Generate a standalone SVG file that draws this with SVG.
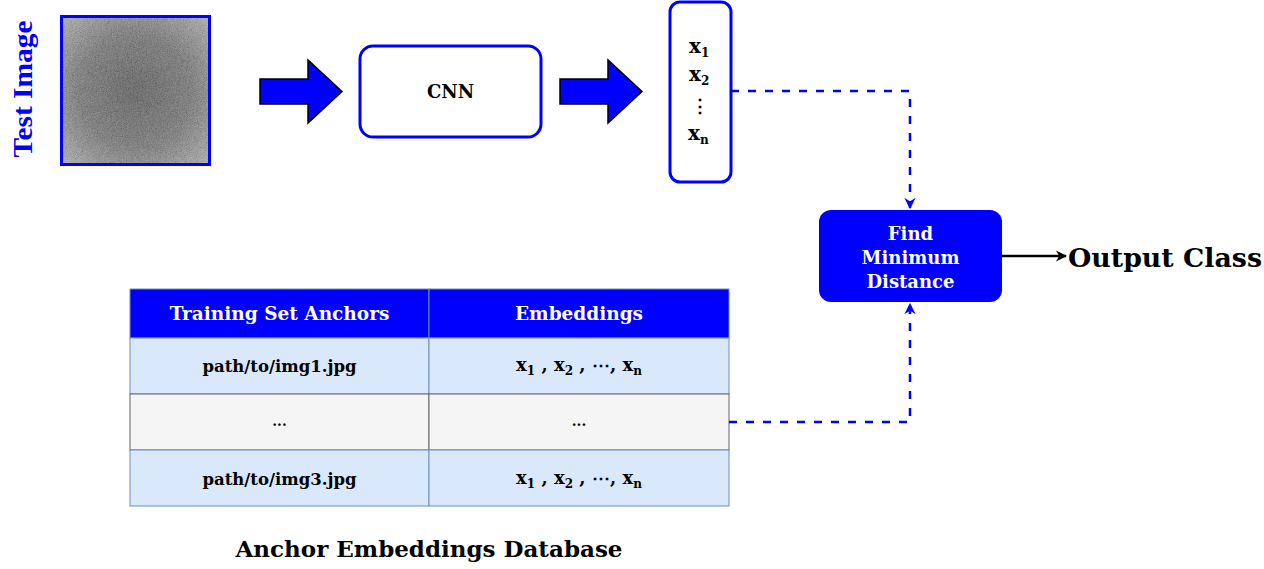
<svg xmlns="http://www.w3.org/2000/svg" width="1264" height="569" viewBox="0 0 1264 569">
<defs>
  <radialGradient id="imgGrad" cx="50%" cy="50%" r="70%">
    <stop offset="0" stop-color="#333"/>
    <stop offset="0.55" stop-color="#555"/>
    <stop offset="1" stop-color="#a5a5a5"/>
  </radialGradient>
  <filter id="noise" x="0" y="0" width="100%" height="100%">
    <feTurbulence type="fractalNoise" baseFrequency="1.2" numOctaves="2" seed="3"/>
    <feColorMatrix type="saturate" values="0"/>
    <feComponentTransfer><feFuncA type="linear" slope="0" intercept="0.45"/></feComponentTransfer>
  </filter>
  <marker id="blueArrow" viewBox="0 0 10 10" refX="9" refY="5" markerWidth="4.5" markerHeight="4.5" orient="auto" markerUnits="strokeWidth">
    <path d="M0,0 L10,5 L0,10 L3,5 z" fill="#0000ff"/>
  </marker>
  <marker id="blackArrow" viewBox="0 0 10 10" refX="9" refY="5" markerWidth="4.5" markerHeight="4.5" orient="auto" markerUnits="strokeWidth">
    <path d="M0,0 L10,5 L0,10 L3,5 z" fill="#000"/>
  </marker>
</defs>
<style>
  .t { font-family: "DejaVu Serif", "Liberation Serif", serif; font-weight: bold; }
  .blk { fill: #000; }
  .wht { fill: #fff; }
  .box { fill: #fff; stroke: #0000ff; stroke-width: 3; }
  .fat { fill: #0000ff; stroke: #000; stroke-width: 1.5; }
  .dash { fill: none; stroke: #0000ff; stroke-width: 2.5; stroke-dasharray: 8 9; }
  .cellB { fill: #dae8fc; stroke: #6c8ebf; stroke-width: 1; }
  .cellG { fill: #f5f5f5; stroke: #666; stroke-width: 1; }
  .head { fill: #0000ff; stroke: #6c8ebf; stroke-width: 1; }
</style>

<g id="test-image">
  <rect x="61.5" y="16.5" width="148" height="148" fill="url(#imgGrad)"/>
  <rect x="61.5" y="16.5" width="148" height="148" filter="url(#noise)"/>
  <rect x="61.5" y="16.5" width="148" height="148" fill="none" stroke="#0000ff" stroke-width="3"/>
  <text transform="translate(32,89) rotate(-90)" text-anchor="middle" font-family="Liberation Serif, serif" font-weight="bold" font-size="27" fill="#0000ff" textLength="137" lengthAdjust="spacingAndGlyphs">Test Image</text>
</g>

<g id="arrow1">
  <path class="fat" d="M260,79 L308,79 L308,60 L342,91.5 L308,123 L308,104 L260,104 Z"/>
</g>

<g id="cnn">
  <rect class="box" x="360" y="46" width="181" height="91" rx="13"/>
  <text class="t blk" x="450.5" y="98" font-size="18" text-anchor="middle">CNN</text>
</g>

<g id="arrow2">
  <path class="fat" d="M560,79 L608,79 L608,60 L642,91.5 L608,123 L608,104 L560,104 Z"/>
</g>

<g id="vector">
  <rect class="box" x="670" y="2" width="61" height="180" rx="10"/>
  <text class="t blk" x="689" y="53" font-size="20">x<tspan font-size="12" dy="4">1</tspan></text>
  <text class="t blk" x="689" y="81" font-size="20">x<tspan font-size="12" dy="4">2</tspan></text>
  <text class="t blk" x="700" y="112" font-size="18" text-anchor="middle">⋮</text>
  <text class="t blk" x="688" y="140" font-size="20">x<tspan font-size="12" dy="4">n</tspan></text>
</g>

<g id="find-min">
  <rect x="819" y="210" width="183" height="92" rx="12" fill="#0000ff"/>
  <text class="t wht" x="910.5" y="240" font-size="18" text-anchor="middle">Find</text>
  <text class="t wht" x="910.5" y="264" font-size="18" text-anchor="middle">Minimum</text>
  <text class="t wht" x="910.5" y="288" font-size="18" text-anchor="middle">Distance</text>
</g>

<g id="output-class">
  <text class="t blk" x="1068" y="267" font-size="26" textLength="194" lengthAdjust="spacingAndGlyphs">Output Class</text>
</g>

<g id="table">
  <rect class="head" x="130" y="289" width="299" height="49"/>
  <rect class="head" x="429" y="289" width="300" height="49"/>
  <rect class="cellB" x="130" y="338" width="299" height="56"/>
  <rect class="cellB" x="429" y="338" width="300" height="56"/>
  <rect class="cellG" x="130" y="394" width="299" height="56"/>
  <rect class="cellG" x="429" y="394" width="300" height="56"/>
  <rect class="cellB" x="130" y="450" width="299" height="56"/>
  <rect class="cellB" x="429" y="450" width="300" height="56"/>
  <text class="t wht" x="279.5" y="320" font-size="18.5" text-anchor="middle">Training Set Anchors</text>
  <text class="t wht" x="579" y="320" font-size="18.5" text-anchor="middle">Embeddings</text>
  <text class="t blk" x="279.5" y="372" font-size="16.5" text-anchor="middle">path/to/img1.jpg</text>
  <text class="t blk" x="279.5" y="426" font-size="14" text-anchor="middle">...</text>
  <text class="t blk" x="279.5" y="485" font-size="16.5" text-anchor="middle">path/to/img3.jpg</text>
  <text class="t blk" x="579" y="371" font-size="18" text-anchor="middle">x<tspan font-size="12" dy="4">1</tspan><tspan dy="-4"> , x</tspan><tspan font-size="12" dy="4">2</tspan><tspan dy="-4"> , ⋯, x</tspan><tspan font-size="12" dy="4">n</tspan></text>
  <text class="t blk" x="579" y="426" font-size="14" text-anchor="middle" font-weight="normal">...</text>
  <text class="t blk" x="579" y="484" font-size="18" text-anchor="middle">x<tspan font-size="12" dy="4">1</tspan><tspan dy="-4"> , x</tspan><tspan font-size="12" dy="4">2</tspan><tspan dy="-4"> , ⋯, x</tspan><tspan font-size="12" dy="4">n</tspan></text>
</g>

<g id="db-label">
  <text class="t blk" x="429" y="557" font-size="23" text-anchor="middle">Anchor Embeddings Database</text>
</g>

<g id="connectors">
  <path class="dash" d="M731,91 L910,91 L910,208" marker-end="url(#blueArrow)"/>
  <path class="dash" d="M729,422 L910,422 L910,304" marker-end="url(#blueArrow)"/>
  <path d="M1002,256 L1066,256" stroke="#000" stroke-width="2.5" fill="none" marker-end="url(#blackArrow)"/>
</g>
</svg>
